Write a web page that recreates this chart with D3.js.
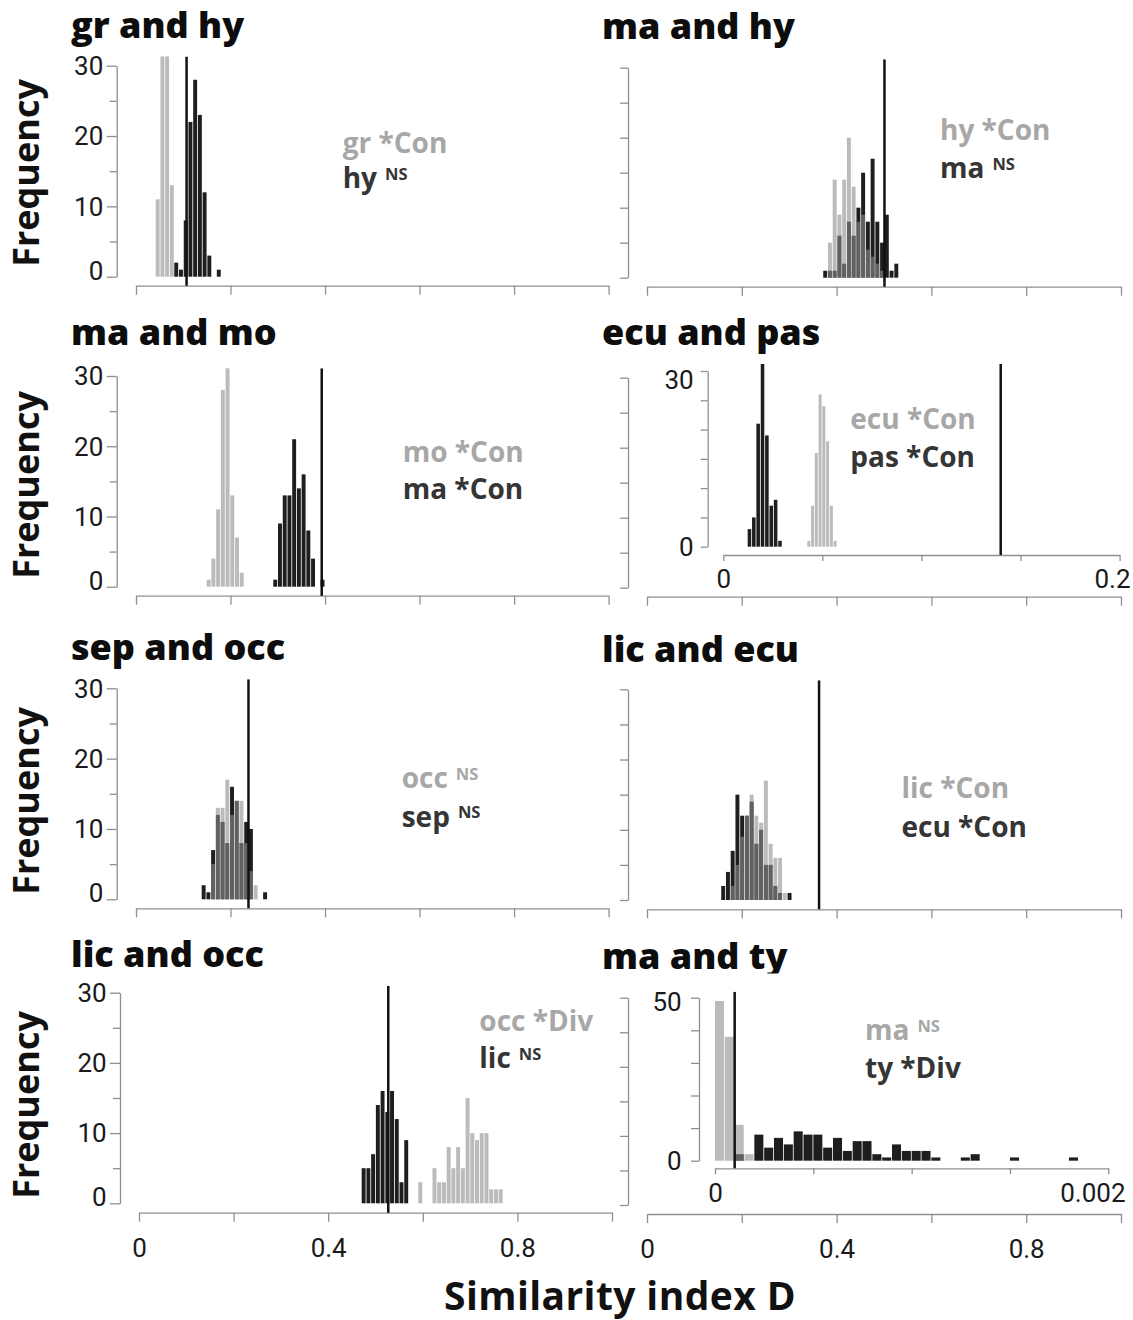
<!DOCTYPE html>
<html>
<head>
<meta charset="utf-8">
<script src="https://cdn.jsdelivr.net/npm/d3@7"></script>
<style>
  body { margin: 0; background: #fff; }
  svg { display: block; font-family: "Open Sans", "DejaVu Sans", sans-serif; }
</style>
</head>
<body>
<script>
// ---------------- data ----------------
const panelTitles = ["gr and hy", "ma and hy", "ma and mo", "ecu and pas",
                     "sep and occ", "lic and ecu", "lic and occ", "ma and ty"];
const lightNames = ["gr", "hy", "mo", "ecu", "occ", "lic", "occ", "ma"];
const lightTests = ["*Con", "*Con", "*Con", "*Con", "NS", "*Con", "*Div", "NS"];
const darkNames  = ["hy", "ma", "ma", "pas", "sep", "ecu", "lic", "ty"];
const darkTests  = ["NS", "NS", "*Con", "*Con", "NS", "*Con", "NS", "*Div"];

// observed similarity (vertical line) per panel
const observedD = [0.107, 0.501, 0.393, 0.140, 0.238, 0.363, 0.527, 0.0001];

// null-distribution histograms: first bin start, bin width, counts per bin
const lightStart = [0.0417, 0.3718, 0.1496, 0.0424, 0.139, 0.1566, 0.5905, 0];
const lightWidth = [0.01, 0.01, 0.01, 0.0019, 0.01, 0.01, 0.01, 0.00005];
const darkStart  = [0.081, 0.3718, 0.2905, 0.0123, 0.139, 0.1566, 0.4708, 0];
const darkWidth  = [0.01, 0.01, 0.01, 0.0022, 0.01, 0.01, 0.01, 0.00005];

const grHyLight   = [11, 38, 37, 13];
const grHyDark    = [2, 1, 8, 22, 28, 23, 12, 3, 0, 1];
const maHyLight   = [0, 5, 14, 9, 14, 20, 13, 8, 9, 4, 3, 2, 1, 0, 0, 0];
const maHyDark    = [1, 1, 1, 6, 2, 8, 6, 10, 15, 8, 17, 8, 5, 9, 1, 2];
const maMoLight   = [1, 4, 11, 28, 33, 13, 7, 2];
const maMoDark    = [1, 9, 13, 13, 21, 14, 16, 8, 4, 0, 1];
const ecuPasLight = [1, 7, 16, 26, 24, 18, 7, 1];
const ecuPasDark  = [3, 5, 21, 35, 19, 7, 8, 1];
const sepOccLight = [0, 0, 5, 13, 13, 17, 12, 14, 14, 8, 4, 2, 0, 0];
const sepOccDark  = [2, 1, 7, 12, 11, 8, 16, 14, 8, 11, 10, 0, 0, 1];
const licEcuLight = [0, 0, 2, 5, 9, 12, 15, 12, 11, 17, 8, 6, 6, 1, 0];
const licEcuDark  = [2, 4, 7, 15, 12, 12, 14, 8, 10, 5, 5, 2, 1, 0, 1];
const licOccLight = [3, 0, 0, 5, 3, 3, 8, 5, 8, 5, 15, 10, 9, 10, 10, 2, 2, 2];
const licOccDark  = [5, 5, 7, 14, 16, 13, 16, 12, 3, 9];
const maTyLight   = [49, 38, 11, 2];
const maTyDark    = [0, 0, 2, 0, 8, 4, 7, 5, 9, 8, 8, 4, 7, 3, 6, 6, 2, 1, 5, 3, 3, 3,
                     1, 0, 0, 1, 2, 0, 0, 0, 1, 0, 0, 0, 0, 0, 1];

const lightCounts = [grHyLight, maHyLight, maMoLight, ecuPasLight, sepOccLight, licEcuLight, licOccLight, maTyLight];
const darkCounts  = [grHyDark, maHyDark, maMoDark, ecuPasDark, sepOccDark, licEcuDark, licOccDark, maTyDark];

// axis ticks
const countTicks   = [0, 10, 20, 30];
const countMinor   = [5, 15, 25];
const countFive    = [0, 5, 10, 15, 20, 25, 30];
const xTickValues  = [0, 0.2, 0.4, 0.6, 0.8, 1];
const xLabelValues = [0, 0.4, 0.8];
const insetAYTicks = [0, 5, 10, 15, 20, 25, 30];
const insetAYLabels = [0, 30];
const insetAXTicks = [0, 0.05, 0.1, 0.15, 0.2];
const insetAXLabels = [0, 0.2];
const insetBYTicks = [0, 10, 20, 30, 40, 50];
const insetBYLabels = [0, 50];
const insetBXTicks = [0, 0.0005, 0.001, 0.0015, 0.002];
const insetBXLabels = [0, 0.002];
const yAxisTitle = "Frequency";
const xAxisTitle = "Similarity index D";

// ---------------- layout ----------------
const W = 1133, H = 1320;
const AXIS = "#8f8f8f", TEXT = "#1a1a1a", LIGHT_NOTE = "#a7a7a7", DARK_NOTE = "#353535";
const TICK_FONT = "Roboto, 'Open Sans', sans-serif";

const frames = [
  { x0: 136, x1: 608.6, yAxisX: 116.7, axisY: 285.7, yBot: 276.7, yTop: 65.7, left: true,
    titleX: 71, titleY: 37.8, noteX: 342.7, noteY: [152.7, 188.3], freqY: 173, top: 31.3 },
  { x0: 647, x1: 1121, yAxisX: 628, axisY: 286.7, yBot: 277.7, yTop: 67.7,
    titleX: 602, titleY: 38.5, noteX: 940, noteY: [140, 178.3], top: 31.2 },
  { x0: 136, x1: 608.6, yAxisX: 116.7, axisY: 595.7, yBot: 586.7, yTop: 376, left: true,
    titleX: 71, titleY: 345.2, noteX: 402.7, noteY: [461.7, 499.3], freqY: 485, top: 31.1 },
  { x0: 647, x1: 1121, yAxisX: 628, axisY: 596.7, yBot: 587.7, yTop: 377.7,
    titleX: 602, titleY: 345.2, noteX: 850.3, noteY: [429.3, 466.7],
    inset: { x0: 723.3, x1: 1119.6, yAxisX: 707.7, axisY: 555, yBot: 546.7, yTop: 371,
             xMax: 0.2, yMax: 30, top: 31.2, yTicks: insetAYTicks, yLabels: insetAYLabels,
             xTicks: insetAXTicks, xLabels: insetAXLabels, ySize: 7, yPad: 7, xPad: 8.8,
             topLabelShift: 9, lastShift: 10.4, fmt: d => d === 0 ? "0" : "0.2" } },
  { x0: 136, x1: 608.6, yAxisX: 116.7, axisY: 908.3, yBot: 899.3, yTop: 688.3, left: true,
    titleX: 71, titleY: 660.2, noteX: 401.7, noteY: [788.3, 826.7], freqY: 801, top: 31.3 },
  { x0: 647, x1: 1121, yAxisX: 628, axisY: 909.3, yBot: 900, yTop: 689.3,
    titleX: 602, titleY: 661.5, noteX: 901.5, noteY: [798.3, 837.3], top: 31.3 },
  { x0: 139, x1: 612, yAxisX: 120, axisY: 1212.7, yBot: 1203.3, yTop: 992.7, left: true, bottom: true,
    titleX: 71, titleY: 966.5, noteX: 479.3, noteY: [1030.7, 1068.3], freqY: 1105, top: 31.0 },
  { x0: 647, x1: 1121, yAxisX: 628, axisY: 1214, yBot: 1205, yTop: 997.7, bottom: true,
    titleX: 602, titleY: 969, noteX: 865, noteY: [1040, 1078.3], titleClip: 973.5,
    inset: { x0: 715, x1: 1108.3, yAxisX: 699, axisY: 1168.3, yBot: 1160.7, yTop: 997.7,
             xMax: 0.002, yMax: 50, top: 51.8, yTicks: insetBYTicks, yLabels: insetBYLabels,
             xTicks: insetBXTicks, xLabels: insetBXLabels, ySize: 8, yPad: 9.3, xPad: 8.9,
             topLabelShift: 4, lastShift: 16.7, fmt: d => d === 0 ? "0" : "0.002" } }
];

const svg = d3.select("body").append("svg")
  .attr("width", W).attr("height", H)
  .attr("viewBox", `0 0 ${W} ${H}`);
const defs = svg.append("defs");

function styleAxis(sel, fontSize) {
  sel.attr("font-family", null).attr("font-size", null);
  sel.select(".domain").attr("stroke", AXIS).attr("stroke-width", 1.3);
  sel.selectAll(".tick line").attr("stroke", AXIS).attr("stroke-width", 1.3);
  sel.selectAll(".tick text").attr("fill", TEXT).attr("font-size", fontSize)
     .attr("font-family", TICK_FONT);
}

function bins(start, width, counts) {
  return counts.map((c, k) => ({ x0: start + k * width, x1: start + (k + 1) * width, c }))
               .filter(b => b.c > 0);
}

function note(g, x, y, name, test, color) {
  const t = g.append("text").attr("x", x).attr("y", y).attr("fill", color)
    .attr("font-size", 28).attr("font-weight", 700);
  if (test === "NS") {
    t.append("tspan").text(name);
    t.append("tspan").attr("dx", 8).attr("dy", -8.5).attr("font-size", 16.5).text("NS");
  } else {
    t.text(name + " " + test);
  }
}

frames.forEach((f, i) => {
  const g = svg.append("g").attr("class", "panel");

  // title
  const title = g.append("text").attr("x", f.titleX).attr("y", f.titleY)
    .attr("font-size", 36).attr("font-weight", 800).attr("fill", "#0d0d0d")
    .text(panelTitles[i]);
  if (f.titleClip) {
    defs.append("clipPath").attr("id", "tclip" + i).append("rect")
      .attr("x", 0).attr("y", f.titleClip - 60).attr("width", W).attr("height", 60);
    title.attr("clip-path", `url(#tclip${i})`);
  }

  // main frame axes
  const xMain = d3.scaleLinear().domain([0, 1]).range([f.x0, f.x1]);
  const yMain = d3.scaleLinear().domain([0, 30]).range([f.yBot, f.yTop]);

  const xAx = g.append("g").attr("transform", `translate(0,${f.axisY})`)
    .call(d3.axisBottom(xMain).tickValues(xTickValues).tickSize(9).tickSizeOuter(0)
      .tickPadding(f.bottom ? 16.5 : 3)
      .tickFormat(d => f.bottom && xLabelValues.includes(d) ? String(d) : ""));
  styleAxis(xAx, 26);

  if (f.left) {
    const yAx = g.append("g").attr("transform", `translate(${f.yAxisX},0)`)
      .call(d3.axisLeft(yMain).tickValues(countTicks).tickSize(10).tickSizeOuter(0)
        .tickPadding(3.4).tickFormat(d3.format("d")));
    styleAxis(yAx, 26);
    yAx.selectAll(".tick text").attr("dy", d => d === 0 ? "0.1em" : "0.34em");
    const yMinor = g.append("g").attr("transform", `translate(${f.yAxisX},0)`)
      .call(d3.axisLeft(yMain).tickValues(countMinor).tickSize(7).tickFormat(""));
    yMinor.select(".domain").remove();
    styleAxis(yMinor, 26);

    g.append("text")
      .attr("transform", `translate(39,${f.freqY}) rotate(-90)`)
      .attr("text-anchor", "middle").attr("font-size", 36).attr("font-weight", 700)
      .attr("fill", "#111").text(yAxisTitle);
  } else {
    const yAx = g.append("g").attr("transform", `translate(${f.yAxisX},0)`)
      .call(d3.axisLeft(yMain).tickValues(countFive).tickSize(8).tickSizeOuter(0).tickFormat(""));
    styleAxis(yAx, 26);
  }

  // plotting frame (inset where present)
  let xs, ys, baseY, topVal, plotLeft, plotRight;
  if (f.inset) {
    const s = f.inset;
    xs = d3.scaleLinear().domain([0, s.xMax]).range([s.x0, s.x1]);
    ys = d3.scaleLinear().domain([0, s.yMax]).range([s.yBot, s.yTop]);
    baseY = s.axisY; topVal = s.top; plotLeft = s.yAxisX; plotRight = s.x1 + 2;

    const ix = g.append("g").attr("transform", `translate(0,${s.axisY})`)
      .call(d3.axisBottom(xs).tickValues(s.xTicks).tickSize(6).tickSizeOuter(0)
        .tickPadding(s.xPad).tickFormat(d => s.xLabels.includes(d) ? s.fmt(d) : ""));
    styleAxis(ix, 26);
    ix.selectAll(".tick text").filter(d => d === s.xMax)
      .attr("text-anchor", "end").attr("x", s.lastShift);

    const iy = g.append("g").attr("transform", `translate(${s.yAxisX},0)`)
      .call(d3.axisLeft(ys).tickValues(s.yTicks).tickSize(s.ySize).tickSizeOuter(0)
        .tickPadding(s.yPad).tickFormat(d => s.yLabels.includes(d) ? String(d) : ""));
    styleAxis(iy, 26);
    iy.selectAll(".tick text").filter(d => d === s.yMax)
      .attr("dy", null).attr("y", 0.34 * 26 + s.topLabelShift);
  } else {
    xs = xMain; ys = yMain; baseY = f.axisY; topVal = f.top;
    plotLeft = f.yAxisX; plotRight = f.x1 + 2;
  }

  const clipId = "pclip" + i;
  defs.append("clipPath").attr("id", clipId).append("rect")
    .attr("x", plotLeft).attr("y", ys(topVal))
    .attr("width", plotRight - plotLeft).attr("height", baseY - ys(topVal) + 1);

  const plot = g.append("g").attr("clip-path", `url(#${clipId})`);
  const gap = 0.8;

  plot.selectAll("rect.dark")
    .data(bins(darkStart[i], darkWidth[i], darkCounts[i]))
    .join("rect").attr("class", "dark")
    .attr("x", d => xs(d.x0))
    .attr("width", d => Math.max(0.8, xs(d.x1) - xs(d.x0) - gap))
    .attr("y", d => ys(d.c))
    .attr("height", d => ys(0) - ys(d.c))
    .attr("fill", "#1e1e1e");

  plot.selectAll("rect.light")
    .data(bins(lightStart[i], lightWidth[i], lightCounts[i]))
    .join("rect").attr("class", "light")
    .attr("x", d => xs(d.x0))
    .attr("width", d => Math.max(0.8, xs(d.x1) - xs(d.x0) - gap))
    .attr("y", d => ys(d.c))
    .attr("height", d => ys(0) - ys(d.c))
    .attr("fill", "#8e8e8e").attr("fill-opacity", 0.6);

  // observed value
  plot.append("line")
    .attr("x1", xs(observedD[i])).attr("x2", xs(observedD[i]))
    .attr("y1", baseY).attr("y2", ys(topVal))
    .attr("stroke", "#111").attr("stroke-width", 2.5);

  // test annotations
  note(g, f.noteX, f.noteY[0], lightNames[i], lightTests[i], LIGHT_NOTE);
  note(g, f.noteX, f.noteY[1], darkNames[i], darkTests[i], DARK_NOTE);
});

svg.append("text").attr("x", 620).attr("y", 1309.5)
  .attr("text-anchor", "middle").attr("font-size", 39).attr("font-weight", 700)
  .attr("letter-spacing", 0.4)
  .attr("fill", "#111").text(xAxisTitle);
</script>
</body>
</html>
